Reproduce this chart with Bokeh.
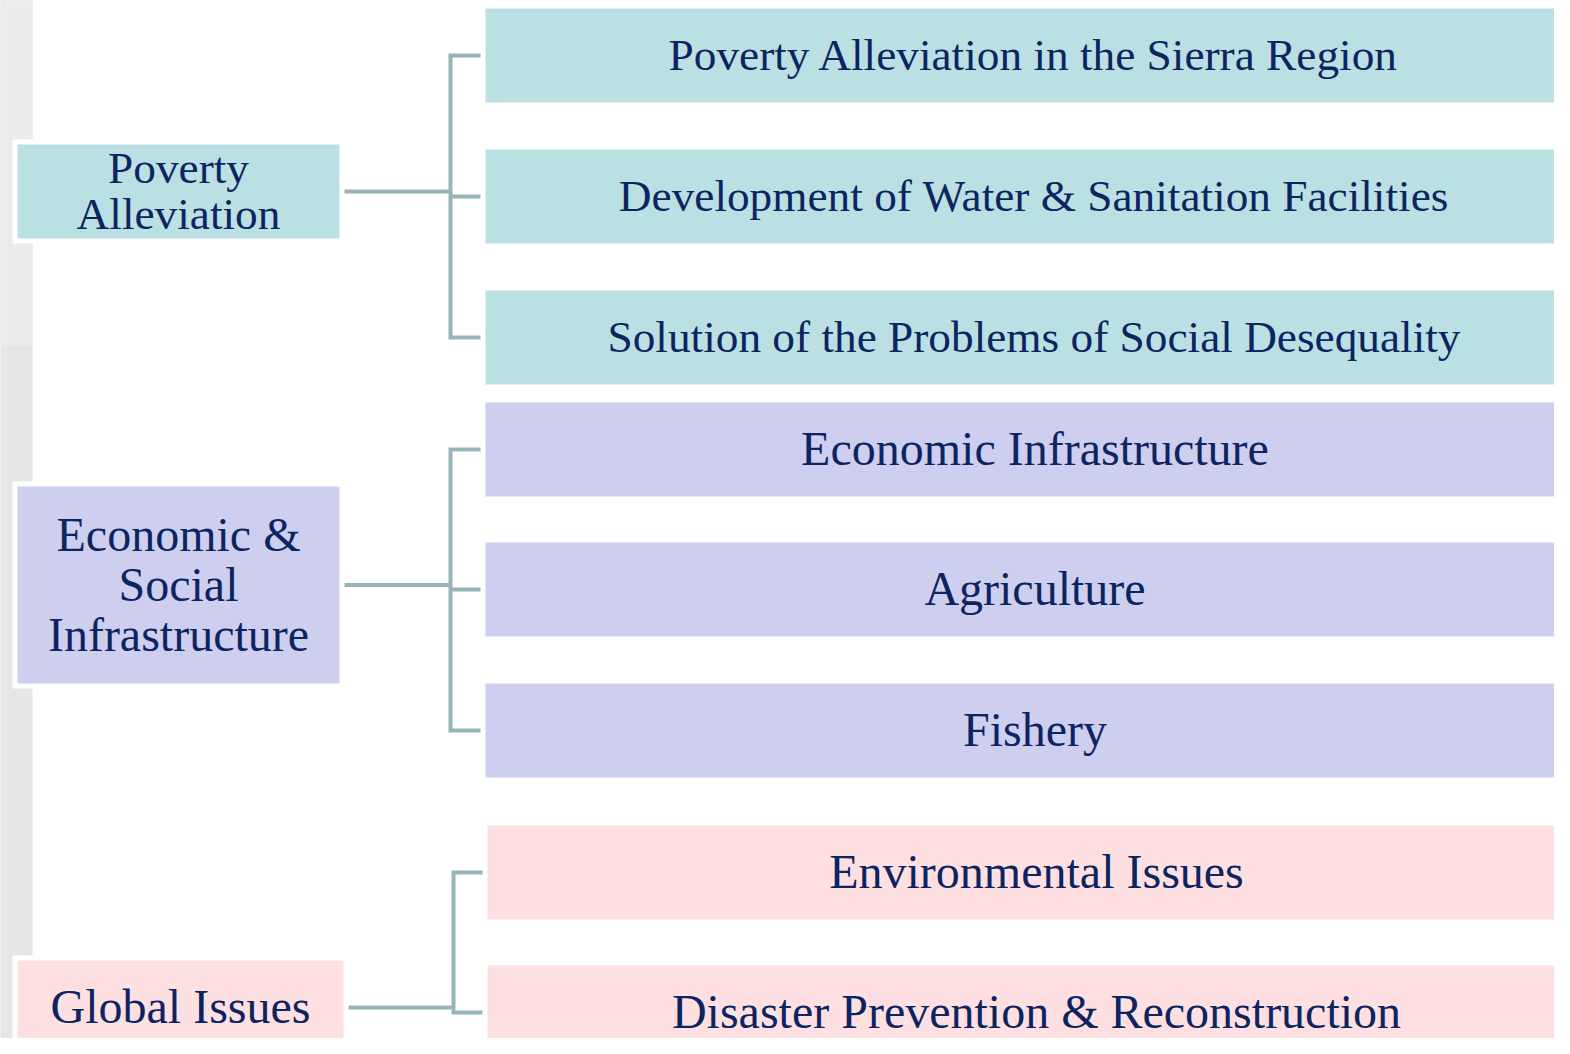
from bokeh.plotting import figure
from bokeh.models import Range1d
from bokeh.core.properties import value
from bokeh.embed import file_html
from bokeh.resources import INLINE

# ---- data ----
group_labels = ["Poverty\nAlleviation", "Economic &\nSocial\nInfrastructure", "Global Issues"]
group_colors = ["#bbe0e3", "#cecfee", "#ffe0e2"]
item_labels = [
    "Poverty Alleviation in the Sierra Region",
    "Development of Water & Sanitation Facilities",
    "Solution of the Problems of Social Desequality",
    "Economic Infrastructure",
    "Agriculture",
    "Fishery",
    "Environmental Issues",
    "Disaster Prevention & Reconstruction",
]
item_group = [0, 0, 0, 1, 1, 1, 2, 2]

# ---- layout (pixel geometry) ----
item_tops = [8, 149, 290, 402, 542, 683, 825, 965]
item_h = 94
item_left = [485, 485, 485, 485, 485, 485, 487, 487]
item_right = 1600
group_box = [(17, 339, 144, 238), (17, 339, 486, 683), (17, 343, 960, 1054)]
group_box_ext = [0, 0, 60]
group_fs = [45.3, 48.0, 48.0]
group_spacing = [46, 50, 50]
group_text_x = [178, 178, 180]
item_text_x = [1033.5, 1034.5, 1036]
bracket_x = [450, 450, 453]
stub_end = [480, 480, 482]
TEXT = "#0c2461"
LINE = "#97b5b9"
FONT = value("Liberation Serif")
DY = -1

W, H = 1554, 1038
p = figure(width=W, height=H, output_backend="svg", toolbar_location=None,
           x_range=Range1d(0, W), y_range=Range1d(H, 0),
           min_border=0, background_fill_color="white", border_fill_color="white")
p.axis.visible = False
p.grid.visible = False
p.outline_line_color = None

# left gray strip
p.quad(left=[-10], right=[32], top=[-10], bottom=[1100], fill_color="#e6e6e8", line_color=None)
p.quad(left=[-10], right=[32], top=[-10], bottom=[345], fill_color="#ebebee", line_color=None)

# group boxes with white frame
for gi, (l, r, t, b) in enumerate(group_box):
    ext = group_box_ext[gi]
    p.quad(left=[l - 5], right=[r + 5], top=[t - 5], bottom=[b + 5 + ext], fill_color="white", line_color=None)
    p.quad(left=[l], right=[r], top=[t], bottom=[b + ext], fill_color=group_colors[gi], line_color=None)
    lines = group_labels[gi].split("\n")
    n = len(lines)
    c = (t + b) / 2 + DY
    ys = [c + (k - (n - 1) / 2) * group_spacing[gi] for k in range(n)]
    p.text(x=[group_text_x[gi]] * n, y=ys, text=lines,
           text_font=FONT, text_font_size=f"{group_fs[gi]}px", text_color=TEXT,
           text_align="center", text_baseline="middle")

# item boxes
bottoms = [t + item_h if i < 7 else 1100 for i, t in enumerate(item_tops)]
p.quad(left=item_left, right=[item_right] * 8, top=item_tops, bottom=bottoms,
       fill_color=[group_colors[g] for g in item_group], line_color=None)
centers = [t + item_h / 2 for t in item_tops]
for gi in range(3):
    idx = [i for i in range(8) if item_group[i] == gi]
    p.text(x=[item_text_x[gi]] * len(idx), y=[centers[i] + DY for i in idx],
           text=[item_labels[i] for i in idx],
           text_font=FONT, text_font_size=f"{group_fs[gi]}px", text_color=TEXT,
           text_align="center", text_baseline="middle")

# connectors
for gi, (l, r, t, b) in enumerate(group_box):
    ys = [centers[i] for i in range(8) if item_group[i] == gi]
    gy = (t + b) / 2
    bx = bracket_x[gi]
    xs_all, ys_all = [], []
    xs_all.append([r + 5, bx]); ys_all.append([gy, gy])
    xs_all.append([stub_end[gi], bx, bx, stub_end[gi]]); ys_all.append([ys[0], ys[0], ys[-1], ys[-1]])
    for y in ys[1:-1]:
        xs_all.append([bx, stub_end[gi]]); ys_all.append([y, y])
    p.multi_line(xs=xs_all, ys=ys_all, line_color=LINE, line_width=4, line_join="miter")

open("out.html", "w").write(file_html(p, INLINE))
